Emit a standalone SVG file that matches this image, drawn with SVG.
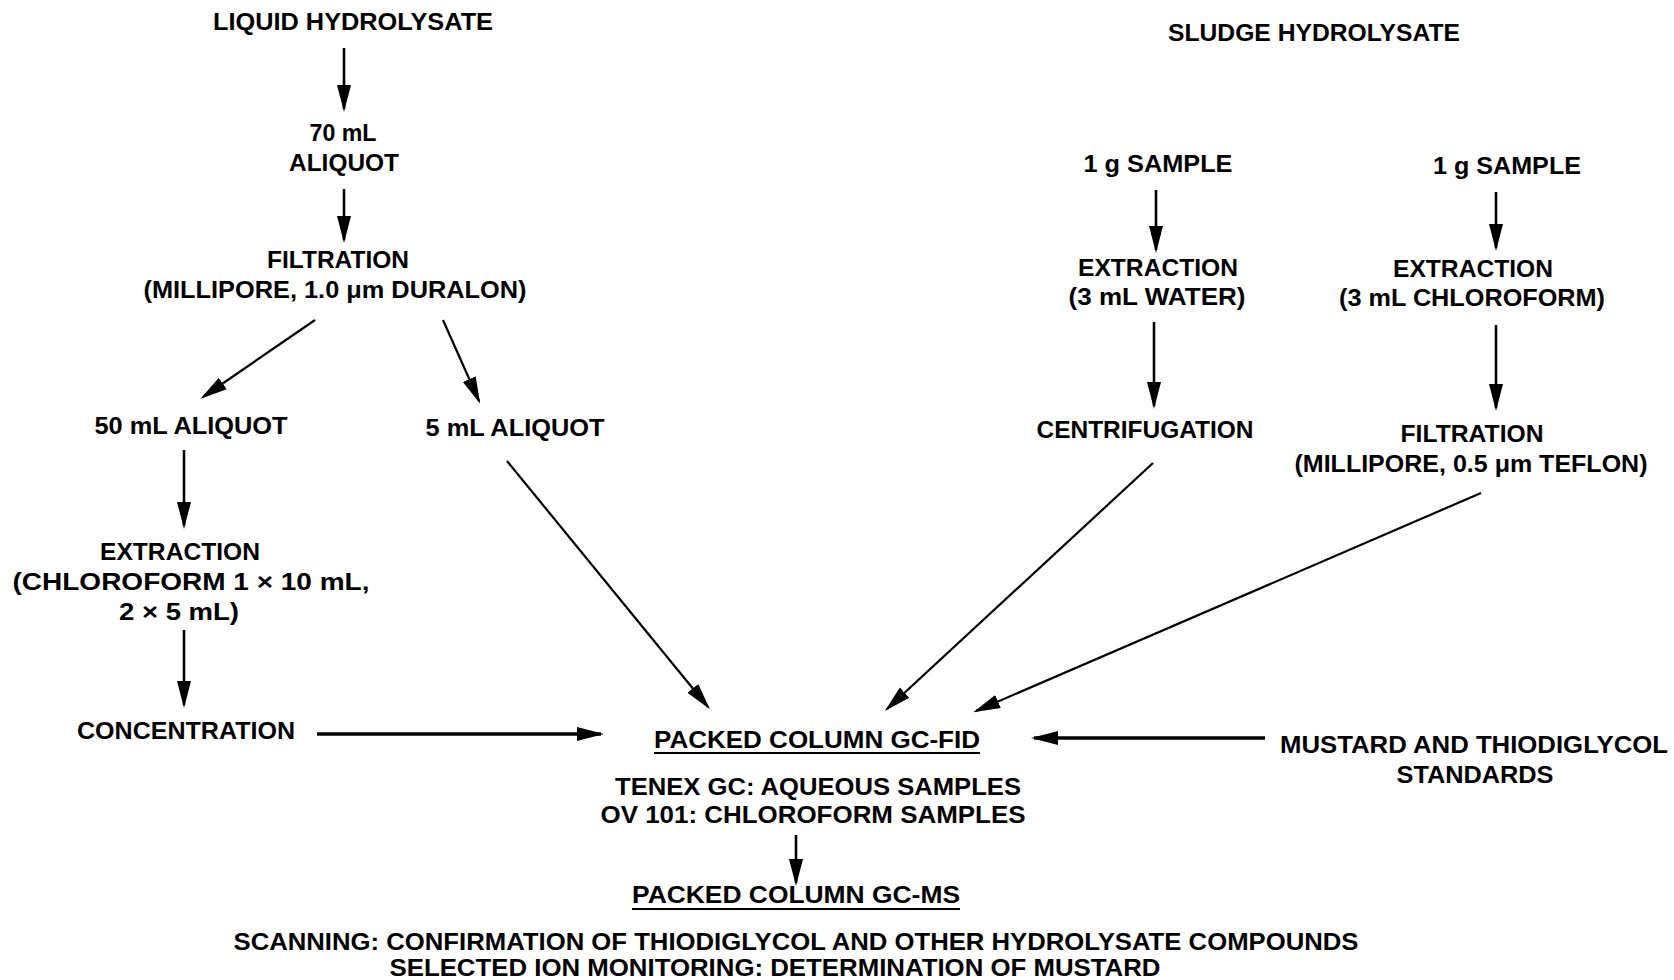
<svg xmlns="http://www.w3.org/2000/svg" width="1674" height="980" viewBox="0 0 1674 980">
<style>
text{font-family:"Liberation Sans",Arial,sans-serif;font-weight:bold;font-size:24px;fill:#000;text-anchor:middle}
.c{font-size:24px}
.t{font-size:23px}
line{stroke:#000;stroke-width:2.6;fill:none}
.d{stroke-width:2.2}
.h{stroke-width:3.6}
.u{stroke-width:2}
</style>
<defs>
<marker id="ah" markerUnits="userSpaceOnUse" markerWidth="28" markerHeight="16" refX="24" refY="8" orient="auto">
<path d="M0,1 L27,8 L0,15 Z" fill="#000"/>
</marker>
</defs>
<rect width="1674" height="980" fill="#fff"/>

<g id="liquid-hydrolysate"><text class="t" x="353" y="30" textLength="280" lengthAdjust="spacingAndGlyphs">LIQUID HYDROLYSATE</text></g>
<g id="aliquot-70"><text class="t" x="343" y="141" textLength="67" lengthAdjust="spacingAndGlyphs">70 mL</text><text class="t" x="344" y="171" textLength="110" lengthAdjust="spacingAndGlyphs">ALIQUOT</text></g>
<g id="filtration-left"><text class="t" x="338" y="268" textLength="142" lengthAdjust="spacingAndGlyphs">FILTRATION</text><text class="t" x="335" y="298" textLength="383" lengthAdjust="spacingAndGlyphs">(MILLIPORE, 1.0 μm DURALON)</text></g>
<g id="aliquot-50"><text x="191" y="434" textLength="193" lengthAdjust="spacingAndGlyphs">50 mL ALIQUOT</text></g>
<g id="aliquot-5"><text x="515" y="436" textLength="179" lengthAdjust="spacingAndGlyphs">5 mL ALIQUOT</text></g>
<g id="extraction-chloroform-left"><text x="180" y="560" textLength="160" lengthAdjust="spacingAndGlyphs">EXTRACTION</text><text x="191" y="590" textLength="357" lengthAdjust="spacingAndGlyphs">(CHLOROFORM 1 × 10 mL,</text><text x="179" y="620" textLength="120" lengthAdjust="spacingAndGlyphs">2 × 5 mL)</text></g>
<g id="concentration"><text x="186" y="739" textLength="218" lengthAdjust="spacingAndGlyphs">CONCENTRATION</text></g>

<g id="gc-fid"><text class="c" x="817" y="748" textLength="326" lengthAdjust="spacingAndGlyphs">PACKED COLUMN GC-FID</text><line class="u" x1="654" y1="753" x2="980" y2="753"/><text class="c" x="818" y="795" textLength="406" lengthAdjust="spacingAndGlyphs">TENEX GC: AQUEOUS SAMPLES</text><text class="c" x="813" y="823" textLength="425" lengthAdjust="spacingAndGlyphs">OV 101: CHLOROFORM SAMPLES</text></g>
<g id="gc-ms"><text class="c" x="796" y="903" textLength="328" lengthAdjust="spacingAndGlyphs">PACKED COLUMN GC-MS</text><line class="u" x1="632" y1="909" x2="960" y2="909"/><text class="c" x="796" y="950" textLength="1125" lengthAdjust="spacingAndGlyphs">SCANNING: CONFIRMATION OF THIODIGLYCOL AND OTHER HYDROLYSATE COMPOUNDS</text><text class="c" x="775" y="976" textLength="771" lengthAdjust="spacingAndGlyphs">SELECTED ION MONITORING: DETERMINATION OF MUSTARD</text></g>

<g id="sludge-hydrolysate"><text class="t" x="1314" y="41" textLength="292" lengthAdjust="spacingAndGlyphs">SLUDGE HYDROLYSATE</text></g>
<g id="sample-water"><text x="1158" y="172" textLength="149" lengthAdjust="spacingAndGlyphs">1 g SAMPLE</text></g>
<g id="sample-chloroform"><text x="1507" y="174" textLength="148" lengthAdjust="spacingAndGlyphs">1 g SAMPLE</text></g>
<g id="extraction-water"><text x="1158" y="276" textLength="160" lengthAdjust="spacingAndGlyphs">EXTRACTION</text><text x="1157" y="305" textLength="177" lengthAdjust="spacingAndGlyphs">(3 mL WATER)</text></g>
<g id="extraction-chloroform-right"><text x="1473" y="277" textLength="160" lengthAdjust="spacingAndGlyphs">EXTRACTION</text><text x="1472" y="306" textLength="266" lengthAdjust="spacingAndGlyphs">(3 mL CHLOROFORM)</text></g>
<g id="centrifugation"><text x="1145" y="438" textLength="217" lengthAdjust="spacingAndGlyphs">CENTRIFUGATION</text></g>
<g id="filtration-right"><text x="1472" y="442" textLength="143" lengthAdjust="spacingAndGlyphs">FILTRATION</text><text x="1471" y="472" textLength="353" lengthAdjust="spacingAndGlyphs">(MILLIPORE, 0.5 μm TEFLON)</text></g>
<g id="standards"><text class="c" x="1474" y="753" textLength="388" lengthAdjust="spacingAndGlyphs">MUSTARD AND THIODIGLYCOL</text><text class="c" x="1475" y="783" textLength="157" lengthAdjust="spacingAndGlyphs">STANDARDS</text></g>

<g id="connectors" marker-end="url(#ah)">
<line x1="344" y1="48" x2="344" y2="109" marker-end="url(#ah)"/>
<line x1="344" y1="189" x2="344" y2="240" marker-end="url(#ah)"/>
<line class="d" x1="315" y1="320" x2="203" y2="397" marker-end="url(#ah)"/>
<line class="d" x1="443" y1="320" x2="479" y2="401" marker-end="url(#ah)"/>
<line x1="184" y1="450" x2="184" y2="526" marker-end="url(#ah)"/>
<line x1="184" y1="630" x2="184" y2="705" marker-end="url(#ah)"/>
<line class="h" x1="317" y1="734" x2="601" y2="734" marker-end="url(#ah)"/>
<line class="d" x1="507" y1="461" x2="708" y2="707" marker-end="url(#ah)"/>
<line class="d" x1="1153" y1="463" x2="887" y2="709" marker-end="url(#ah)"/>
<line class="d" x1="1481" y1="493" x2="976" y2="711" marker-end="url(#ah)"/>
<line class="h" x1="1265" y1="738" x2="1034" y2="738" marker-end="url(#ah)"/>
<line x1="796" y1="835" x2="796" y2="883" marker-end="url(#ah)"/>
<line x1="1156" y1="190" x2="1156" y2="250" marker-end="url(#ah)"/>
<line x1="1496" y1="192" x2="1496" y2="248" marker-end="url(#ah)"/>
<line x1="1154" y1="322" x2="1154" y2="406" marker-end="url(#ah)"/>
<line x1="1496" y1="325" x2="1496" y2="408" marker-end="url(#ah)"/>
</g>
</svg>
